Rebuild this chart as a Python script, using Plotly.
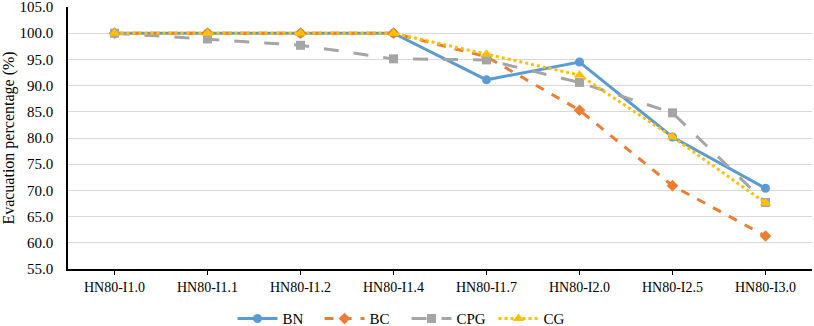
import plotly.graph_objects as go

categories = ["HN80-I1.0", "HN80-I1.1", "HN80-I1.2", "HN80-I1.4",
              "HN80-I1.7", "HN80-I2.0", "HN80-I2.5", "HN80-I3.0"]
bn = [100.0, 100.0, 100.0, 100.0, 91.1, 94.5, 80.2, 70.4]
bc = [100.0, 100.0, 100.0, 100.0, 95.5, 85.3, 70.9, 61.3]
cpg = [100.0, 98.9, 97.7, 95.1, 94.9, 90.6, 84.8, 67.7]
cg = [100.0, 100.0, 100.0, 100.0, 96.0, 92.0, 80.2, 67.6]
y_ticks = [55, 60, 65, 70, 75, 80, 85, 90, 95, 100, 105]

series = [
    ("BN", bn, "#5B9BD5", "solid", "circle", 9),
    ("BC", bc, "#ED7D31", "dash", "diamond", 9),
    ("CPG", cpg, "#A5A5A5", "longdash", "square", 9),
    ("CG", cg, "#FFC000", "dot", "triangle-up", 10),
]

fig = go.Figure()
for name, vals, color, dash, sym, size in series:
    fig.add_trace(go.Scatter(
        x=categories, y=vals, name=name, mode="lines+markers",
        line=dict(color=color, width=3, dash=dash),
        marker=dict(symbol=sym, size=size, color=color),
    ))

font = "Liberation Serif"
fig.update_layout(
    width=814, height=326,
    margin=dict(l=68, r=2, t=7, b=57, autoexpand=False),
    paper_bgcolor="white", plot_bgcolor="white",
    font=dict(family=font, size=14, color="black"),
    showlegend=True,
    legend=dict(orientation="h", x=0.455, xanchor="center", y=-0.19, yanchor="middle",
                font=dict(family=font, size=15), traceorder="normal",
                entrywidth=32, itemwidth=40),
    xaxis=dict(type="category", range=[-0.5, 7.5], showgrid=False,
               showline=True, linecolor="black", linewidth=1.5,
               ticks="outside", ticklen=4, tickcolor="black",
               tickfont=dict(family=font, size=14)),
    yaxis=dict(range=[55, 105], tickmode="array", tickvals=y_ticks,
               tickformat=".1f", ticklabeloverflow="allow",
               showgrid=True, gridcolor="#D9D9D9", gridwidth=1,
               showline=True, linecolor="black", linewidth=1.5,
               zeroline=False, ticks="", ticklabelstandoff=10,
               title=dict(text="Evacuation percentage (%)", font=dict(family=font, size=16), standoff=4),
               tickfont=dict(family=font, size=15)),
)
fig.write_html("out.html", config={"displayModeBar": False},
               post_script="document.body.style.margin='0';document.body.style.overflow='hidden';")
